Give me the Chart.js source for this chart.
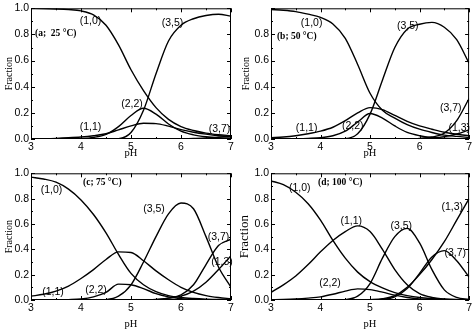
<!DOCTYPE html>
<html>
<head>
<meta charset="utf-8">
<script src="https://cdn.jsdelivr.net/npm/chart.js@4.4.1/dist/chart.umd.min.js"></script>
<style>
  html, body { margin: 0; padding: 0; background: #fff; }
  #wrap { position: relative; width: 474px; height: 331px; }
  #wrap canvas { position: absolute; }
</style>
</head>
<body>
<div id="wrap">
  <canvas id="pa" width="237" height="165" style="left:0;top:0;width:237px;height:165px"></canvas>
  <canvas id="pb" width="237" height="165" style="left:237px;top:0;width:237px;height:165px"></canvas>
  <canvas id="pc" width="237" height="166" style="left:0;top:165px;width:237px;height:166px"></canvas>
  <canvas id="pd" width="237" height="166" style="left:237px;top:165px;width:237px;height:166px"></canvas>
</div>
<script>
'use strict';

// ── shared pH grid ──────────────────
const pH = [3, 3.25, 3.5, 3.75, 4, 4.25, 4.5, 4.75, 5, 5.25, 5.5, 5.75, 6, 6.25, 6.5, 6.75, 7];

// ── (a) 25 °C ──────────────────
const a10 = [1.0, 0.998, 0.995, 0.99, 0.98, 0.95, 0.87, 0.72, 0.53, 0.37, 0.24, 0.15, 0.095, 0.065, 0.045, 0.033, 0.025];
const a11 = [0.002, 0.003, 0.005, 0.009, 0.015, 0.025, 0.04, 0.07, 0.1, 0.12, 0.118, 0.098, 0.072, 0.052, 0.037, 0.025, 0.017];
const a22 = [0, 0, 0, 0.001, 0.003, 0.012, 0.035, 0.095, 0.18, 0.235, 0.19, 0.115, 0.06, 0.032, 0.017, 0.009, 0.005];
const a35 = [0, 0, 0, 0, 0, 0, 0, 0.003, 0.05, 0.22, 0.5, 0.75, 0.87, 0.92, 0.945, 0.955, 0.94];
const a37 = [0, 0, 0, 0, 0, 0, 0, 0, 0, 0, 0, 0.001, 0.002, 0.004, 0.008, 0.013, 0.02];

// ── (b) 50 °C ──────────────────
const b10 = [0.99, 0.985, 0.975, 0.955, 0.93, 0.88, 0.77, 0.57, 0.35, 0.22, 0.16, 0.11, 0.075, 0.05, 0.03, 0.02, 0.012];
const b11 = [0.01, 0.015, 0.025, 0.04, 0.06, 0.09, 0.14, 0.2, 0.24, 0.225, 0.18, 0.135, 0.1, 0.075, 0.052, 0.036, 0.025];
const b22 = [0, 0, 0.002, 0.005, 0.01, 0.025, 0.06, 0.13, 0.195, 0.16, 0.1, 0.05, 0.025, 0.012, 0.006, 0.003, 0.002];
const b35 = [0, 0, 0, 0, 0, 0, 0.002, 0.04, 0.19, 0.45, 0.7, 0.84, 0.878, 0.892, 0.855, 0.76, 0.58];
const b37 = [0, 0, 0, 0, 0, 0, 0, 0, 0, 0, 0, 0.001, 0.005, 0.015, 0.045, 0.14, 0.31];
const b13 = [0, 0, 0, 0, 0, 0, 0, 0, 0, 0, 0, 0.001, 0.003, 0.008, 0.018, 0.038, 0.07];

// ── (c) 75 °C ──────────────────
const c10 = [0.97, 0.955, 0.93, 0.875, 0.79, 0.675, 0.53, 0.36, 0.21, 0.12, 0.066, 0.035, 0.02, 0.012, 0.007, 0.004, 0.003];
const c11 = [0.03, 0.045, 0.07, 0.11, 0.17, 0.24, 0.32, 0.38, 0.375, 0.31, 0.23, 0.16, 0.1, 0.06, 0.035, 0.02, 0.01];
const c22 = [0, 0, 0.001, 0.003, 0.008, 0.025, 0.06, 0.125, 0.12, 0.09, 0.05, 0.025, 0.01, 0.004, 0.002, 0.001, 0];
const c35 = [0, 0, 0, 0, 0, 0, 0.003, 0.03, 0.12, 0.3, 0.5, 0.68, 0.765, 0.72, 0.5, 0.26, 0.1];
const c37 = [0, 0, 0, 0, 0, 0, 0, 0, 0, 0, 0.002, 0.015, 0.04, 0.12, 0.28, 0.43, 0.48];
const c13 = [0, 0, 0, 0, 0, 0, 0, 0, 0, 0, 0.005, 0.015, 0.03, 0.07, 0.14, 0.24, 0.35];

// ── (d) 100 °C ──────────────────
const d10 = [0.94, 0.91, 0.85, 0.76, 0.63, 0.47, 0.33, 0.22, 0.145, 0.095, 0.058, 0.035, 0.02, 0.012, 0.007, 0.004, 0.002];
const d11 = [0.06, 0.12, 0.19, 0.28, 0.38, 0.47, 0.54, 0.585, 0.54, 0.4, 0.24, 0.12, 0.05, 0.02, 0.008, 0.003, 0.001];
const d22 = [0.002, 0.004, 0.008, 0.015, 0.025, 0.045, 0.07, 0.088, 0.082, 0.062, 0.038, 0.02, 0.009, 0.004, 0.002, 0.001, 0];
const d35 = [0, 0, 0, 0, 0, 0, 0.003, 0.03, 0.13, 0.33, 0.5, 0.565, 0.45, 0.24, 0.08, 0.02, 0.004];
const d37 = [0, 0, 0, 0, 0, 0, 0, 0, 0.001, 0.005, 0.025, 0.09, 0.21, 0.34, 0.39, 0.31, 0.18];
const d13 = [0, 0, 0, 0, 0, 0, 0, 0, 0.003, 0.01, 0.035, 0.1, 0.2, 0.32, 0.46, 0.63, 0.8];

// curve labels, in data units
const labelsA = [
  { t: '(1,0)', x: 4.19, y: 0.9 }, { t: '(3,5)', x: 5.83, y: 0.89 }, { t: '(2,2)', x: 5.02, y: 0.265 },
  { t: '(1,1)', x: 4.19, y: 0.09 }, { t: '(3,7)', x: 6.77, y: 0.075 }
];
const labelsB = [
  { t: '(1,0)', x: 3.82, y: 0.89 }, { t: '(3,5)', x: 5.76, y: 0.86 }, { t: '(1,1)', x: 3.72, y: 0.083 },
  { t: '(2,2)', x: 4.65, y: 0.1 }, { t: '(3,7)', x: 6.63, y: 0.235 }, { t: '(1,3)', x: 6.8, y: 0.083 }
];
const labelsC = [
  { t: '(1,0)', x: 3.41, y: 0.87 }, { t: '(3,5)', x: 5.46, y: 0.72 }, { t: '(3,7)', x: 6.75, y: 0.5 },
  { t: '(1,3)', x: 6.82, y: 0.3 }, { t: '(1,1)', x: 3.44, y: 0.066 }, { t: '(2,2)', x: 4.3, y: 0.075 }
];
const labelsD = [
  { t: '(1,0)', x: 3.58, y: 0.88 }, { t: '(1,1)', x: 4.62, y: 0.62 }, { t: '(3,5)', x: 5.63, y: 0.585 },
  { t: '(1,3)', x: 6.66, y: 0.735 }, { t: '(3,7)', x: 6.72, y: 0.37 }, { t: '(2,2)', x: 4.19, y: 0.13 }
];

const SANS  = "'Liberation Sans', Arial, sans-serif";
const SERIF = "'Liberation Serif', 'Times New Roman', serif";

// frame with inward ticks on all four sides
const framePlugin = {
  id: 'frame',
  afterDraw(chart) {
    const { ctx, chartArea: a, scales: { x, y } } = chart;
    ctx.save();
    ctx.strokeStyle = '#000';
    ctx.lineWidth = 1;
    ctx.strokeRect(a.left + 0.5, a.top + 0.5, a.right - a.left - 1, a.bottom - a.top - 1);
    ctx.beginPath();
    for (let v = 3; v <= 7.001; v += 0.5) {
      const px = Math.round(x.getPixelForValue(v)) + 0.5;
      const len = Math.abs(v - Math.round(v)) < 1e-6 ? 4 : 2;
      ctx.moveTo(px, a.bottom); ctx.lineTo(px, a.bottom - len);
      ctx.moveTo(px, a.top);    ctx.lineTo(px, a.top + len);
    }
    for (let i = 0; i <= 10; i++) {
      const py = Math.round(y.getPixelForValue(i / 10)) + 0.5;
      const len = i % 2 === 0 ? 4 : 2;
      ctx.moveTo(a.left, py);  ctx.lineTo(a.left + len, py);
      ctx.moveTo(a.right, py); ctx.lineTo(a.right - len, py);
    }
    ctx.stroke();
    ctx.restore();
  }
};

// species labels and the panel caption
const textPlugin = {
  id: 'curveText',
  afterDatasetsDraw(chart, args, opts) {
    const { ctx, scales: { x, y } } = chart;
    ctx.save();
    ctx.fillStyle = '#000';
    ctx.textBaseline = 'middle';
    ctx.textAlign = 'center';
    ctx.font = '10.5px ' + SANS;
    opts.items.forEach(l => ctx.fillText(l.t, x.getPixelForValue(l.x), y.getPixelForValue(l.y)));
    ctx.textAlign = 'left';
    ctx.font = 'bold 9.5px ' + SERIF;
    ctx.fillText(opts.caption.t, x.getPixelForValue(opts.caption.x), y.getPixelForValue(opts.caption.y));
    ctx.restore();
  }
};

function makePanel(id, series, cfg) {
  const datasets = series.map(vals => ({
    data: pH.map((p, i) => ({ x: p, y: vals[i] })),
    borderColor: '#000', borderWidth: 1.4, pointRadius: 0,
    cubicInterpolationMode: 'monotone', fill: false
  }));
  return new Chart(document.getElementById(id), {
    type: 'line',
    data: { datasets },
    options: {
      responsive: false, animation: false, events: [],
      layout: { padding: { top: cfg.top, right: cfg.right, left: 0, bottom: 0 } },
      plugins: {
        legend: { display: false }, tooltip: { enabled: false },
        curveText: { items: cfg.labels, caption: cfg.caption }
      },
      scales: {
        x: {
          type: 'linear', min: 3, max: 7,
          afterFit: s => { s.height = cfg.xh; },
          grid: { display: false, drawTicks: false }, border: { display: false },
          ticks: { stepSize: 1, padding: 2, color: '#000', font: { family: SANS, size: 10.5 }, maxRotation: 0 },
          title: { display: true, text: 'pH', color: '#000', font: { family: SERIF, size: 10.5 }, padding: { top: 0, bottom: cfg.phPad } }
        },
        y: {
          min: 0, max: 1,
          afterFit: s => { s.width = cfg.yw; },
          grid: { display: false, drawTicks: false }, border: { display: false },
          ticks: {
            stepSize: 0.2, padding: 2, color: '#000', font: { family: SANS, size: 10.5 },
            callback: v => (cfg.hideTop && Math.abs(v - 1) < 1e-6) ? '' : v.toFixed(1)
          },
          title: { display: true, text: 'Fraction', color: '#000', font: { family: SERIF, size: cfg.fracSize }, padding: { top: cfg.fracPad, bottom: 0 } }
        }
      }
    },
    plugins: [framePlugin, textPlugin]
  });
}

makePanel('pa', [a10, a11, a22, a35, a37], {
  top: 7, right: 6, xh: 26, yw: 31, phPad: 5, fracSize: 10, fracPad: 3,
  labels: labelsA, caption: { t: '(a;  25 °C)', x: 3.08, y: 0.81 }
});
makePanel('pb', [b10, b11, b22, b35, b37, b13], {
  top: 7, right: 4, xh: 26, yw: 34, phPad: 5, fracSize: 10, fracPad: 3, hideTop: true,
  labels: labelsB, caption: { t: '(b; 50 °C)', x: 3.12, y: 0.785 }
});
makePanel('pc', [c10, c11, c22, c35, c37, c13], {
  top: 7, right: 6, xh: 31, yw: 31, phPad: 0, fracSize: 10, fracPad: 3,
  labels: labelsC, caption: { t: '(c; 75 °C)', x: 4.04, y: 0.93 }
});
makePanel('pd', [d10, d11, d22, d35, d37, d13], {
  top: 7, right: 4, xh: 31, yw: 34, phPad: 0, fracSize: 13, fracPad: 0,
  labels: labelsD, caption: { t: '(d; 100 °C)', x: 3.95, y: 0.93 }
});
</script>
</body>
</html>
